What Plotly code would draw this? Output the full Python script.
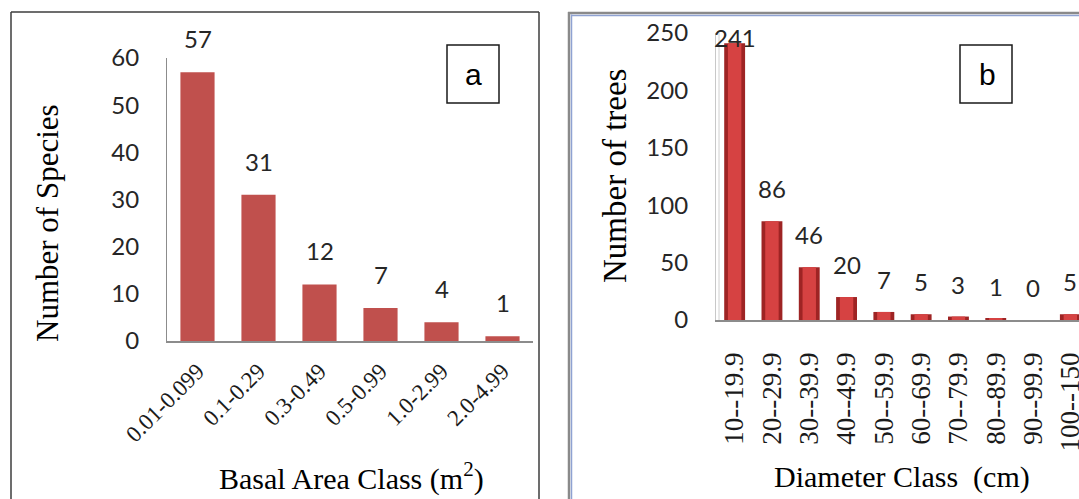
import plotly.graph_objects as go

# ---- data ----
basal_classes = ["0.01-0.099", "0.1-0.29", "0.3-0.49", "0.5-0.99", "1.0-2.99", "2.0-4.99"]
species_counts = [57, 31, 12, 7, 4, 1]

diam_classes = ["10--19.9", "20--29.9", "30--39.9", "40--49.9", "50--59.9",
                "60--69.9", "70--79.9", "80--89.9", "90--99.9", "100--150"]
tree_counts = [241, 86, 46, 20, 7, 5, 3, 1, 0, 5]

W, H = 1079, 499
def px(x):
    return x / W
def py(y):
    return (H - y) / H

NUM_FONT = dict(family="Lato, Open Sans, sans-serif", size=24, color="#262626")
SERIF = "Liberation Serif, Times New Roman, serif"

fig = go.Figure()

# panel a
fig.add_trace(go.Bar(x=basal_classes, y=species_counts, xaxis="x", yaxis="y",
                     marker=dict(color="#C0504D", line=dict(width=0)), width=0.56,
                     showlegend=False, hoverinfo="x+y"))

# panel b (two overlaid bars to imitate shading)
fig.add_trace(go.Bar(x=diam_classes, y=tree_counts, xaxis="x2", yaxis="y2",
                     marker=dict(color="#9E2424", line=dict(width=0)), width=0.56,
                     showlegend=False, hoverinfo="x+y"))
fig.add_trace(go.Bar(x=diam_classes, y=tree_counts, xaxis="x2", yaxis="y2",
                     marker=dict(color="#D64242", line=dict(width=0)), width=0.36,
                     showlegend=False, hoverinfo="skip"))

annotations = []
for c, v in zip(basal_classes, species_counts):
    annotations.append(dict(x=c, y=v, xref="x", yref="y", text=str(v), showarrow=False,
                            yanchor="bottom", yshift=17, font=NUM_FONT))
ymax_b = 250
for c, v in zip(diam_classes, tree_counts):
    if v > 0.9 * ymax_b:
        annotations.append(dict(x=c, y=v, xref="x2", yref="y2", text=str(v), showarrow=False,
                                yanchor="middle", yshift=6, font=NUM_FONT))
    else:
        annotations.append(dict(x=c, y=v, xref="x2", yref="y2", text=str(v), showarrow=False,
                                yanchor="bottom", yshift=16, font=NUM_FONT))

# titles
annotations += [
    dict(x=px(351), y=py(476), xref="paper", yref="paper", text="Basal Area Class (m<sup>2</sup>)",
         showarrow=False, font=dict(family=SERIF, size=30, color="#000000"),
         xanchor="center", yanchor="middle"),
    dict(x=px(47), y=py(223), xref="paper", yref="paper", text="Number of Species",
         showarrow=False, textangle=-90, font=dict(family=SERIF, size=31, color="#000000"),
         xanchor="center", yanchor="middle"),
    dict(x=px(902), y=py(477), xref="paper", yref="paper", text="Diameter Class  (cm)",
         showarrow=False, font=dict(family=SERIF, size=30, color="#000000"),
         xanchor="center", yanchor="middle"),
    dict(x=px(615), y=py(176), xref="paper", yref="paper", text="Number of trees",
         showarrow=False, textangle=-90, font=dict(family=SERIF, size=33, color="#000000"),
         xanchor="center", yanchor="middle"),
    dict(x=px(473), y=py(74), xref="paper", yref="paper", text="a", showarrow=False,
         font=dict(family="Liberation Sans, Arial, sans-serif", size=30, color="#000000"),
         xanchor="center", yanchor="middle"),
    dict(x=px(987), y=py(74), xref="paper", yref="paper", text="b", showarrow=False,
         font=dict(family="Liberation Sans, Arial, sans-serif", size=30, color="#000000"),
         xanchor="center", yanchor="middle"),
]

shapes = [
    # panel a frame
    dict(type="line", xref="paper", yref="paper", x0=px(11), x1=px(11), y0=py(12), y1=py(510),
         line=dict(color="#3C3C3C", width=1.5)),
    dict(type="line", xref="paper", yref="paper", x0=px(11), x1=px(539), y0=py(12), y1=py(12),
         line=dict(color="#3C3C3C", width=1.5)),
    dict(type="line", xref="paper", yref="paper", x0=px(539), x1=px(539), y0=py(12), y1=py(510),
         line=dict(color="#3C3C3C", width=1.5)),
    # panel b frame (gray outer, blue inner)
    dict(type="line", xref="paper", yref="paper", x0=px(569), x1=px(569), y0=py(12), y1=py(510),
         line=dict(color="#8A8A8A", width=2.5)),
    dict(type="line", xref="paper", yref="paper", x0=px(568), x1=px(1085), y0=py(13), y1=py(13),
         line=dict(color="#8A8A8A", width=2.5)),
    dict(type="line", xref="paper", yref="paper", x0=px(571.5), x1=px(571.5), y0=py(14.5), y1=py(510),
         line=dict(color="#8FA2D2", width=1.5)),
    dict(type="line", xref="paper", yref="paper", x0=px(571), x1=px(1085), y0=py(15.5), y1=py(15.5),
         line=dict(color="#8FA2D2", width=1.5)),
    # label boxes
    dict(type="rect", xref="paper", yref="paper", x0=px(447), x1=px(499), y0=py(45), y1=py(103),
         line=dict(color="#1A1A1A", width=1.5), fillcolor="rgba(0,0,0,0)"),
    dict(type="rect", xref="paper", yref="paper", x0=px(960), x1=px(1012), y0=py(45), y1=py(103),
         line=dict(color="#1A1A1A", width=1.5), fillcolor="rgba(0,0,0,0)"),
    # double y-axis line for panel b
    dict(type="line", xref="paper", yref="paper", x0=px(719), x1=px(719), y0=py(33), y1=py(320),
         line=dict(color="#D0D0D0", width=1)),
]

fig.update_layout(
    template="none",
    width=W, height=H, margin=dict(l=0, r=0, t=0, b=0, autoexpand=False),
    paper_bgcolor="white", plot_bgcolor="white",
    barmode="overlay",
    xaxis=dict(domain=[px(167), px(533)], range=[-0.5, 5.5], type="category", automargin=False,
               showline=True, linecolor="#8C8C8C", linewidth=1.5, showgrid=False,
               ticks="", tickangle=-45, ticklabelstandoff=6,
               tickfont=dict(family=SERIF, size=23, color="#1A1A1A"), anchor="y"),
    yaxis=dict(domain=[py(341), py(58)], range=[0, 60], dtick=10, automargin=False,
               showline=True, linecolor="#8C8C8C", linewidth=1.2, showgrid=False, zeroline=False,
               ticks="", ticklabelstandoff=22, tickfont=NUM_FONT, anchor="x"),
    xaxis2=dict(domain=[px(716), 1.0], range=[-0.5, 9.232], type="category", automargin=False,
                showline=True, linecolor="#8C8C8C", linewidth=1.5, showgrid=False,
                ticks="", tickangle=-90, ticklabelstandoff=20,
                tickfont=dict(family=SERIF, size=27, color="#1A1A1A"), anchor="y2"),
    yaxis2=dict(domain=[py(320), py(33)], range=[0, 250], dtick=50, automargin=False,
                showline=True, linecolor="#C8C8C8", linewidth=1.2, showgrid=False, zeroline=False,
                ticks="", ticklabelstandoff=22, tickfont=NUM_FONT, anchor="x2"),
    annotations=annotations, shapes=shapes,
)

fig.write_html("out.html", config={"displayModeBar": False},
               post_script="document.body.style.margin='0px';document.body.style.overflow='hidden';")
